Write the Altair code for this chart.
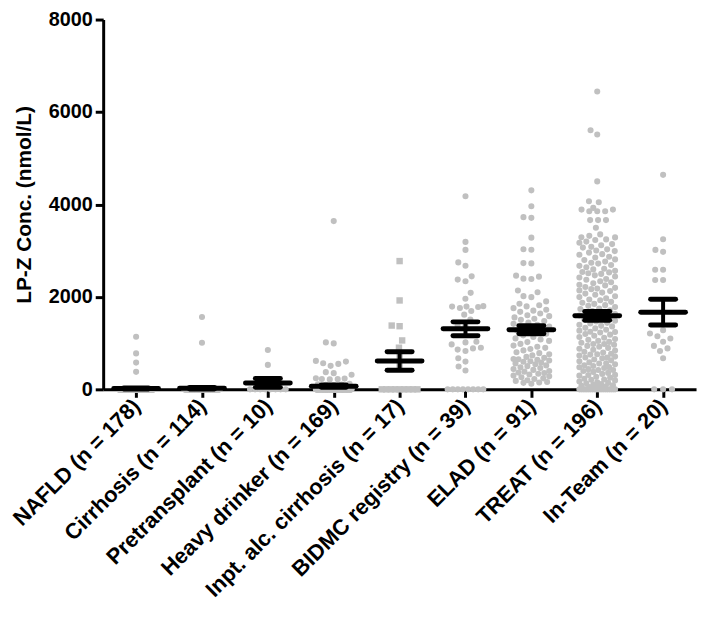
import json
import math
import numpy as np
import pandas as pd
import altair as alt

categories = ["NAFLD (n = 178)", "Cirrhosis (n = 114)", "Pretransplant (n = 10)",
              "Heavy drinker (n = 169)", "Inpt. alc. cirrhosis (n = 17)",
              "BIDMC registry (n = 39)", "ELAD (n = 91)", "TREAT (n = 196)",
              "In-Team (n = 20)"]

nafld = [1137, 778, 579, 379] + [0] * 174
cirrhosis = [1566, 1008] + [0] * 112
pretransplant = [851, 529] + [0] * 8
heavy = [3640, 1015, 994, 615, 565, 508, 551, 600, 372, 315, 350,
         240, 225, 215, 232, 220, 120, 105, 95, 110, 100] + [0] * 148
inpt = [2775, 1923, 1366, 1380, 1058, 901, 730, 529] + [0] * 9
bidmc = [4176, 3190, 3017, 2746, 2674, 2445, 2338, 2374, 2088, 1960,
         1790, 1760, 1790, 1800, 1780, 1616, 1695, 1508, 1388, 1373,
         1015, 886, 972, 1030, 830, 900, 860, 672, 600, 493, 408] + [0] * 8
elad = [4305, 3962, 3725, 3710, 3282, 3031, 3020, 2731, 2725, 2438,
        2388, 2395, 2460, 2138, 2102, 2016, 1995, 1902,
        1853, 1818, 1794, 1757, 1722, 1703, 1676,
        1642, 1604, 1583, 1556, 1527, 1503, 1478, 1446,
        1417, 1394, 1357, 1332, 1298, 1273, 1238,
        1204, 1168, 1133, 1102, 1077, 1048, 1022,
        983, 947, 921, 898, 873, 842,
        802, 783, 757, 734, 702, 681, 658, 641, 623, 598, 577, 561,
        543, 518, 502, 477, 462, 438, 421, 397,
        383, 362, 338, 322, 297, 281,
        262, 238, 223, 198, 183, 158, 141, 122,
        652, 608, 351, 148]
treat = [6442, 5512, 5605, 4498, 4048, 4069, 3889, 3854, 3854, 3889,
         3925, 3854, 3661, 3661, 3661, 3496,
         3352, 3321, 3290, 3287, 3244, 3231, 3196, 3170, 3142, 3118,
         3083, 3067, 3029, 3004, 2991, 2958, 2925, 2913, 2870, 2852,
         2811, 2797, 2764, 2738, 2721, 2690, 2672, 2641, 2608, 2595,
         2563, 2540, 2512, 2497, 2466, 2441, 2420, 2388, 2371, 2340,
         2318, 2295, 2262, 2249, 2213, 2196, 2168, 2140, 2126, 2093,
         2071, 2047, 2015, 1996, 1968, 1944, 1927, 1893, 1872, 1848,
         1821, 1806, 1779, 1750, 1738, 1712, 2530, 2180,
         1694, 1671, 1655, 1628, 1610, 1597, 1566, 1549, 1521, 1508,
         1483, 1467, 1439, 1425, 1398, 1374, 1362, 1330, 1318, 1289,
         1270, 1247, 1229, 1196, 1183, 1160, 1132, 1117, 1090, 1071,
         1048, 1026, 1009, 981, 964, 940, 922, 897, 879, 856,
         838, 811, 795, 770, 752, 731, 709, 688, 672, 645,
         627, 606, 583, 566, 541, 522, 505, 478, 461, 437,
         419, 398, 377, 356, 334, 312, 296, 271, 253, 230,
         212, 194, 171, 150, 133, 112, 96, 78, 61, 45,
         690, 560, 420, 310, 205, 140, 88, 52, 1240, 980,
         760, 480] + [0] * 20
inteam = [4640, 3246, 3017, 2975, 2588, 2588, 2366, 2366,
          1280, 1208, 1150, 1100, 1030, 940, 886, 830, 672] + [0] * 3

groups = [nafld, cirrhosis, pretransplant, heavy, inpt, bidmc, elad, treat, inteam]

# mean and SEM
means = [18, 25, 138, 68, 615, 1310, 1290, 1590, 1670]
sems = [9, 16, 95, 25, 200, 150, 85, 95, 280]

PLOT_W, PLOT_H = 598, 373
PX_X = PLOT_W / 9.0
PX_Y = PLOT_H / 8000.0
D = 8.0
MAXW = 18.0


def swarm(vals):
    ys = [v * PX_Y for v in vals]
    offs = [0.0] * len(vals)
    zero_idx = [i for i, v in enumerate(vals) if v == 0]
    m = len(zero_idx)
    if m:
        sp = 9.0 if m == 1 else min(9.0, 2 * MAXW / (m - 1))
        for k, i in enumerate(zero_idx):
            offs[i] = (k - (m - 1) / 2.0) * sp
    placed = []
    others = sorted([i for i, v in enumerate(vals) if v != 0], key=lambda i: ys[i])
    for i in others:
        y = ys[i]
        nb = [(px, py) for px, py in placed if abs(py - y) < D]
        cands = [0.0]
        for px, py in nb:
            dx = math.sqrt(D * D - (py - y) ** 2)
            cands += [px + dx, px - dx]
        cands = sorted(set(round(c, 4) for c in cands), key=lambda c: (abs(c), c))
        chosen = None
        for c in cands:
            if abs(c) > MAXW + 1e-6:
                continue
            if all((c - px) ** 2 + (y - py) ** 2 >= D * D - 1e-3 for px, py in nb):
                chosen = c
                break
        if chosen is None:
            grid = np.linspace(-MAXW, MAXW, 37)
            chosen = float(max(grid, key=lambda c: min((c - px) ** 2 + (y - py) ** 2 for px, py in nb)))
        placed.append((chosen, y))
        offs[i] = chosen
    return offs


rows = []
for gi, vals in enumerate(groups):
    offs = swarm(vals)
    for v, o in zip(vals, offs):
        rows.append({"idx": gi, "value": v, "xpos": gi + o / PX_X,
                     "square": gi == 4})
pts = pd.DataFrame(rows)
circ_df = pts[~pts["square"]]
sq_df = pts[pts["square"]]

summ = pd.DataFrame({"idx": list(range(9)), "mean": means,
                     "lo": [m - s for m, s in zip(means, sems)],
                     "hi": [m + s for m, s in zip(means, sems)]})

label_expr = json.dumps(categories) + "[datum.value]"
FONT = "Liberation Sans"
GRAY = "#c0c0c0"

xscale = alt.Scale(domain=[-0.5, 8.5], nice=False, zero=False)
yscale = alt.Scale(domain=[0, 8000], nice=False)

xaxis = alt.Axis(values=list(range(9)), labelExpr=label_expr, labelAngle=-45,
                 labelAlign="right", labelBaseline="middle", labelFont=FONT,
                 labelFontSize=22, labelFontWeight="bold", labelColor="black",
                 labelPadding=5, labelOverlap=False, labelFlush=False, labelLimit=500,
                 title="", grid=False, domainColor="black", domainWidth=3,
                 tickColor="black", tickWidth=3, tickSize=8)
yaxis = alt.Axis(values=[0, 2000, 4000, 6000, 8000], format="d", labelFont=FONT,
                 labelFontSize=20, labelFontWeight="bold", labelColor="black",
                 labelPadding=3, labelFlush=False, title="LP-Z Conc. (nmol/L)",
                 titleFont=FONT, titleFontSize=21, titleFontWeight="bold",
                 titleColor="black", titlePadding=14, grid=False,
                 domainColor="black", domainWidth=3, tickColor="black",
                 tickWidth=3, tickSize=8)

circles = alt.Chart(circ_df).mark_circle(size=38, color=GRAY, opacity=1).encode(
    x=alt.X("xpos:Q", scale=xscale, axis=xaxis),
    y=alt.Y("value:Q", scale=yscale, axis=yaxis))
squares = alt.Chart(sq_df).mark_square(size=42, color=GRAY, opacity=1).encode(
    x=alt.X("xpos:Q", scale=xscale),
    y=alt.Y("value:Q", scale=yscale))

base = alt.Chart(summ)
vert = base.mark_rule(color="black", strokeWidth=4).encode(
    x=alt.X("idx:Q", scale=xscale), y=alt.Y("lo:Q", scale=yscale), y2="hi:Q")
cap_hi = base.transform_calculate(a="datum.idx - 0.19", b="datum.idx + 0.19").mark_rule(
    color="black", strokeWidth=5, strokeCap="round").encode(
    x=alt.X("a:Q", scale=xscale), x2="b:Q", y=alt.Y("hi:Q", scale=yscale))
cap_lo = base.transform_calculate(a="datum.idx - 0.19", b="datum.idx + 0.19").mark_rule(
    color="black", strokeWidth=5, strokeCap="round").encode(
    x=alt.X("a:Q", scale=xscale), x2="b:Q", y=alt.Y("lo:Q", scale=yscale))
mean_bar = base.transform_calculate(a="datum.idx - 0.34", b="datum.idx + 0.34").mark_rule(
    color="black", strokeWidth=5, strokeCap="round").encode(
    x=alt.X("a:Q", scale=xscale), x2="b:Q", y=alt.Y("mean:Q", scale=yscale))

chart = alt.layer(circles, squares, vert, cap_hi, cap_lo, mean_bar).properties(
    width=PLOT_W, height=PLOT_H,
    autosize=alt.AutoSizeParams(type="none"),
    padding={"left": 96, "top": 9, "right": 5, "bottom": 230},
    background="white",
).configure_view(strokeWidth=0)

chart.save("out.html", embed_options={"renderer": "svg", "actions": False})
